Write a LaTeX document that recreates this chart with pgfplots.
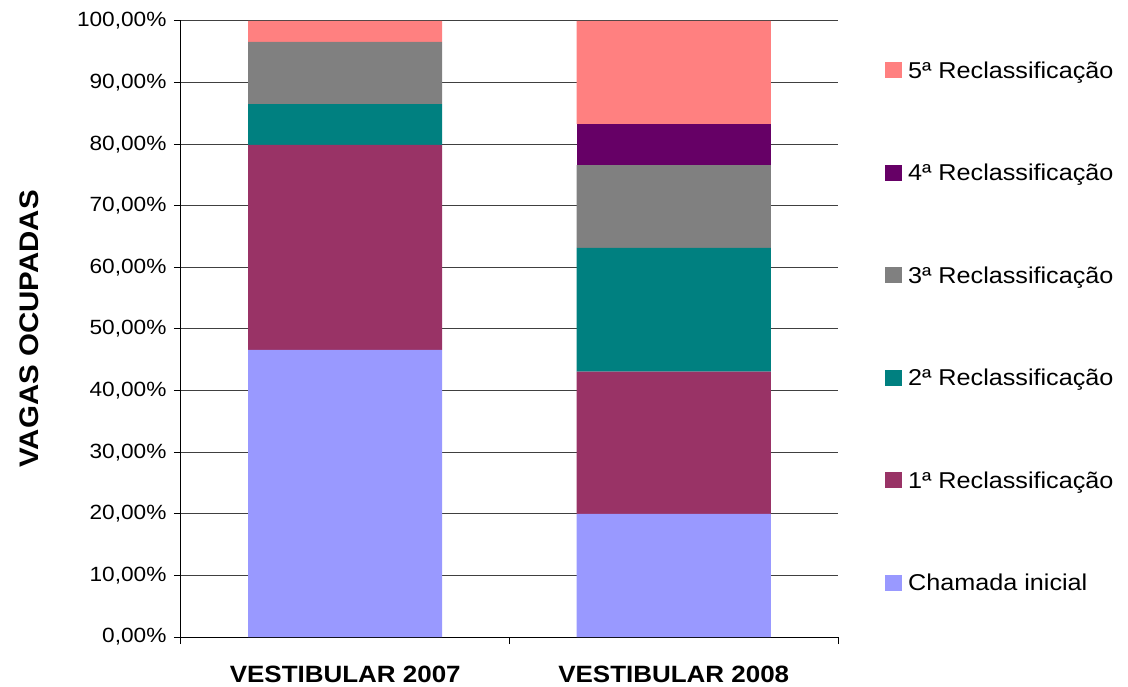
\documentclass[border=0pt]{standalone}
\usepackage{pgfplots}
\pgfplotsset{compat=1.18}
\usepackage{fontspec}
\setmainfont{Liberation Sans}[FakeStretch=1.1]
\definecolor{cA}{HTML}{9999FF}
\definecolor{cB}{HTML}{993366}
\definecolor{cC}{HTML}{008080}
\definecolor{cD}{HTML}{808080}
\definecolor{cE}{HTML}{660066}
\definecolor{cF}{HTML}{FF8080}
\begin{document}
\begin{tikzpicture}
\useasboundingbox (-181pt,-49pt) rectangle (947pt,637pt);
\begin{axis}[
  at={(0,0)}, anchor=south west,
  scale only axis, width=657pt, height=616pt,
  ybar stacked, bar width=194pt,
  xmin=-0.5, xmax=1.5, ymin=0, ymax=100,
  axis x line*=bottom, axis y line*=left,
  axis line style={-, black, line width=1pt},
  xtick={0,1}, xticklabels={VESTIBULAR 2007, VESTIBULAR 2008},
  major x tick style={draw=none},
  minor xtick={-0.5,0.5,1.5},
  minor tick length=7pt, major tick length=7pt,
  tick align=outside,
  tick style={black, line width=1pt},
  ytick={0,10,...,100},
  ymajorgrids, grid style={black!75, line width=1pt},
  /pgf/number format/assume math mode=true,
  yticklabel={\pgfmathprintnumber[fixed, fixed zerofill, precision=2, use comma]{\tick}\%},
  yticklabel style={font=\fontsize{20.6}{23}\selectfont, xshift=-4pt},
  xticklabel style={font=\fontsize{23.6}{28}\selectfont\bfseries, anchor=center, yshift=-30.5pt},
  ylabel={VAGAS OCUPADAS},
  ylabel style={font=\fontsize{26.8}{30}\selectfont\bfseries, at={(axis description cs:-0.2315,0.5)}, anchor=center},
  reverse legend,
  legend style={draw=none, fill=none, inner sep=0pt, at={(axis description cs:1.0715,0.9338)}, anchor=north west,
    row sep=86pt, column sep=6pt,
    nodes={inner sep=0pt, text height=16.5pt, text depth=0pt, font=\fontsize{22.9}{27}\selectfont}},
  legend cell align=left,
  legend image code/.code={\fill[#1] (0pt,-8pt) rectangle (17pt,8pt);},
]
\addplot[fill=cA, draw=none] coordinates {(0,46.6) (1,20.0)};
\addplot[fill=cB, draw=none] coordinates {(0,33.3) (1,23.1)};
\addplot[fill=cC, draw=none] coordinates {(0,6.6) (1,20.05)};
\addplot[fill=cD, draw=none] coordinates {(0,10.1) (1,13.45)};
\addplot[fill=cE, draw=none] coordinates {(0,0) (1,6.7)};
\addplot[fill=cF, draw=none] coordinates {(0,3.4) (1,16.7)};
\legend{Chamada inicial, 1ª Reclassificação, 2ª Reclassificação, 3ª Reclassificação, 4ª Reclassificação, 5ª Reclassificação}
\end{axis}
\end{tikzpicture}
\end{document}
